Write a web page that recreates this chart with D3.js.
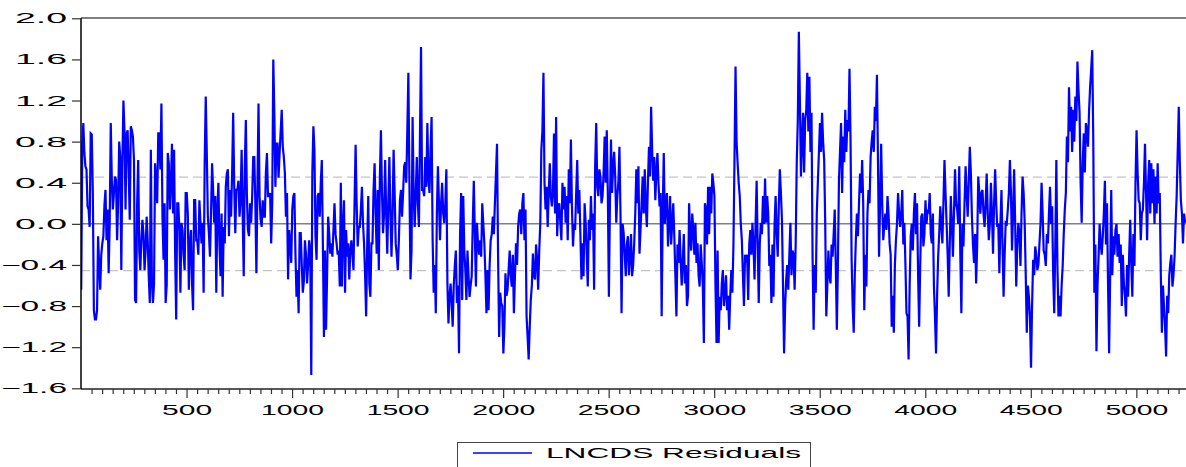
<!DOCTYPE html>
<html>
<head>
<meta charset="utf-8">
<script src="https://cdn.jsdelivr.net/npm/d3@7"></script>
<style>
  html, body { margin: 0; padding: 0; background: #fff; }
  svg { display: block; }
  text { font-family: "Liberation Sans", Arial, sans-serif; fill: #000; }
</style>
</head>
<body>
<svg id="chart" width="1186" height="467"></svg>
<script>
// ---- data: LNCDS residuals ----
// residA*: observations 1, 11, 21, ...   residB*: observations 6, 16, 26, ...
const obsStart = 1;
const obsStep = 10;
const residA1 = [-0.64,0.98,0.56,0.17,-0.03,0.87,-0.84,-0.93,-0.12,-0.64,-0.19,0.18,-0.16,-0.48,0.98,0.14,0.46,-0.16,0.8,-0.45,1.2,0.14,0.91,0.04,0.91,0.62,-0.77,0.62,-0.45,0.04,-0.45,0.07,-0.51,0.72,-0.77,0.59,0.2,0.88,1.17,-0.35,-0.77,0.69,0.14,0.78,0.72,-0.93,0.2,-0.67,-0.06,-0.45,0.3,-0.64,-0.06,-0.84,0.23,-0.16,0.23,-0.19,-0.67,1.24,0.07];
const residA2 = [-0.32,0.59,0.01,-0.67,0.4,-0.51,-0.71,-0.19,0.49,-0.12,0.07,1.08,-0.09,0.33,0.07,0.72,-0.51,1.01,-0.06,0.2,0.27,0.65,-0.48,1.17,0.04,0.23,0.07,0.69,0.27,-0.19,1.6,0.36,0.78,0.69,1.11,0.65,0.07,-0.54,-0.19,0.14,0.3,-0.71,-0.87,-0.09,-0.67,-0.16,-0.58,-0.16,-1.47,0.95,-0.12,0.27,0.07,0.62,-1.1,-1.03,0.07,-0.29,-0.32,0.2];
const residA3 = [-0.19,-0.26,0.4,-0.03,-0.67,-0.32,-0.54,-0.16,-0.45,0.77,-0.22,-0.03,0.36,-0.19,-0.9,0.27,-0.71,-0.19,0.59,-0.29,-0.45,0.91,-0.09,0.62,-0.29,0.65,-0.32,0.72,-0.19,-0.45,0.23,0.07,0.56,0.4,1.47,-0.54,1.04,-0.03,0.65,-0.03,1.72,0.33,0.65,0.98,0.3,1.04,-0.67,-0.87,0.56,-0.16,0.4,0.01,0.53,-0.97,-0.58,-1.0,-0.41,-0.77,-1.26];
const residA4 = [0.3,0.27,-0.45,-0.26,-0.71,-0.51,0.42,-0.61,-0.19,-0.16,0.2,-0.19,-0.87,-0.84,-0.16,0.07,0.2,0.78,-1.1,-0.77,-1.26,-0.48,-0.64,-0.26,-0.61,-0.87,-0.19,-0.03,0.14,0.2,-0.16,-0.9,-1.32,-0.74,-0.29,-0.54,-0.35,-0.26,0.72,1.47,0.14,-0.03,0.59,0.17,0.88,1.04,0.17,0.01,0.4,0.36,0.27,0.53,0.82,-0.22,-0.06,0.62,0.33,-0.54,-0.51];
const residA5 = [0.01,-0.61,-0.16,-0.06,-0.64,0.98,0.27,0.46,0.27,0.85,0.91,-0.71,0.82,0.56,0.46,0.27,0.75,-0.87,-0.09,-0.51,-0.12,-0.32,-0.51,-0.19,0.53,0.56,-0.06,0.46,0.53,-0.03,0.75,1.14,0.42,0.23,0.69,0.17,-0.9,0.69,0.2,-0.22,0.27,0.01,-0.12,-0.9,-0.38,-0.35,-0.38,-0.58,-0.8,0.2,-0.26,-0.06,0.01,-0.19,-0.61,-0.38,-1.16,0.14,0.36];
const residA6 = [0.36,0.49,0.27,-1.16,-1.16,-0.84,-0.45,-0.67,-0.84,-1.03,-0.45,-0.22,1.53,0.59,0.27,-0.16,-0.8,-0.38,-0.74,-0.06,0.01,-0.54,0.42,-0.77,0.01,0.27,0.44,0.27,-0.41,-0.77,-0.71,0.27,-0.32,0.53,0.04,-1.26,-0.54,-0.64,0.01,-0.26,-0.64,0.59,1.87,0.46,1.08,1.01,1.47,1.43,1.08,-1.03,-0.67,0.4,0.98,1.08,0.62,-0.9,-0.26,-0.58,-0.32,0.14];
const residA7 = [-1.03,0.42,0.98,0.85,1.11,1.01,1.51,-0.35,-1.06,-0.16,-0.12,0.49,0.62,-0.84,-0.61,0.33,0.65,0.91,1.14,1.45,-0.32,0.78,-0.16,0.1,0.27,-0.19,-1.0,-1.06,-0.16,0.3,-0.03,0.33,0.01,-0.87,-1.32,-0.12,-0.26,0.3,0.2,-1.0,0.07,-0.22,0.23,0.14,0.3,-0.19,-0.61,-1.26,-0.32,0.17,-0.19,0.62,0.01,-0.71,0.27,-0.32,0.53,0.14,0.56];
const residA8 = [-0.87,-0.22,0.56,0.07,0.75,0.07,-0.38,-0.58,0.46,0.1,0.33,-0.03,0.49,-0.16,0.4,-0.29,0.53,-0.03,-0.48,0.33,-0.71,0.01,0.14,0.62,-0.26,0.53,-0.61,0.01,-0.41,0.46,0.01,-1.06,-0.71,-1.4,-0.35,-0.22,-0.45,-0.19,0.4,-0.26,-0.41,-0.19,0.36,0.17,-0.87,0.62,-0.9,-0.9,-0.41,0.14,0.85,1.33,1.14,1.11,1.24,1.58,1.08,0.01,0.88];
const residA9 = [0.98,0.75,1.33,1.69,-0.67,-1.24,-0.32,-0.19,-0.12,0.42,0.2,-1.26,0.33,-0.12,-0.06,-0.32,-0.38,-0.8,-0.58,-0.9,-0.71,0.04,-0.71,-0.41,0.91,0.23,-0.16,0.14,0.78,-0.16,0.62,0.59,0.53,0.46,0.59,0.3,-1.06,-0.8,-1.29,-0.87,-0.38,-0.61,-0.32,0.27,1.14,0.23,-0.19,0.01];
const residB1 = [0.75,0.69,0.53,0.14,0.88,0.3,-0.93,-0.84,-0.4,-0.3,-0.12,0.33,0.14,0.01,0.43,0.3,0.43,0.2,0.65,0.59,0.9,0.88,0.5,0.95,0.85,-0.74,0.2,-0.26,-0.16,-0.1,-0.26,-0.16,-0.77,-0.58,-0.58,0.4,0.88,0.53,0.07,0.2,-0.6,0.59,0.4,0.1,-0.29,0.2,-0.06,0.01,-0.3,0.3,0.1,-0.19,-0.58,0.23,-0.16,-0.3,0.01,0.01,0.6,0.69,-0.09];
const residB2 = [0.1,0.33,0.27,0.14,-0.2,0.1,-0.03,0.36,0.53,0.33,0.5,0.36,0.33,0.42,0.23,0.1,0.56,0.27,-0.12,0.01,0.65,0.2,0.36,0.27,-0.03,0.07,0.5,0.27,0.3,0.2,1.08,0.78,0.45,0.9,0.75,0.49,0.3,-0.06,-0.38,0.27,-0.29,-0.45,-0.09,-0.4,-0.55,-0.3,-0.4,-0.26,0.5,0.72,-0.35,0.3,0.4,-0.2,-0.26,-0.5,-0.1,-0.19,-0.06,-0.1];
const residB3 = [-0.3,-0.61,-0.61,0.23,-0.06,-0.19,-0.26,-0.3,0.2,0.2,-0.03,0.14,0.01,-0.5,-0.2,-0.58,-0.19,0.33,0.1,0.33,0.46,0.3,0.1,0.1,0.2,0.1,0.07,0.3,-0.3,-0.16,0.33,0.3,0.6,0.9,0.4,-0.26,0.3,0.3,0.2,0.88,0.33,0.27,0.36,0.45,0.72,-0.16,-0.4,0.1,0.2,0.2,0.1,0.2,-0.58,-0.71,-0.77,-0.6,-0.26,-0.6,-0.1];
const residB4 = [-0.74,-0.26,-0.74,-0.5,-0.6,0.0,-0.1,0.01,-0.3,-0.32,0.0,-0.5,-0.45,-0.4,-0.1,-0.1,0.49,-0.3,-0.67,-0.8,-1.0,-0.7,-0.45,-0.5,-0.3,-0.5,-0.4,0.1,-0.1,0.3,0.14,-1.1,-1.0,-0.6,-0.5,-0.2,-0.64,0.0,0.9,0.4,0.36,0.3,0.27,0.3,0.1,-0.12,0.2,-0.16,0.14,0.01,-0.16,0.2,0.17,0.0,0.3,0.1,-0.1,-0.19,0.2];
const residB5 = [-0.3,0.04,0.27,0.1,0.56,0.36,0.53,0.2,0.5,0.4,0.3,0.2,0.3,0.7,0.01,0.4,0.1,0.0,-0.3,-0.2,-0.5,-0.1,-0.4,0.1,0.2,-0.29,0.2,0.1,0.17,0.4,0.46,0.72,0.65,0.5,0.4,0.3,0.1,0.0,0.3,0.0,-0.2,0.2,-0.5,-0.2,-0.06,-0.6,-0.1,-0.4,-0.7,-0.1,0.1,-0.3,-0.38,-0.5,-0.2,-0.6,0.2,-0.2,-0.1];
const residB6 = [0.1,0.4,-0.6,-0.26,-0.71,-0.58,-0.8,-0.5,-0.7,-0.7,-0.67,0.6,0.8,0.4,0.0,-0.5,-0.3,-0.3,-0.2,-0.3,-0.2,0.0,-0.2,-0.19,-0.1,0.0,0.01,0.1,-0.3,-0.2,0.0,-0.1,0.17,0.3,-0.6,-0.8,-0.4,-0.3,-0.5,-0.3,-0.2,1.0,1.2,0.8,0.5,1.1,0.9,0.7,-0.3,-0.4,0.1,0.69,0.7,0.8,0.0,-0.6,-0.5,-0.2,-0.1,-0.4];
const residB7 = [-0.4,0.7,0.3,0.6,0.7,0.9,0.8,-0.8,-0.5,0.1,0.2,0.3,0.2,-0.3,0.1,0.2,0.8,0.7,1.0,0.6,0.2,0.2,0.0,-0.06,0.1,-0.3,-0.7,-0.4,0.0,0.1,0.1,-0.2,-0.4,-0.9,-0.6,0.0,0.1,-0.1,-0.5,-0.4,0.1,-0.1,0.0,0.1,-0.1,0.1,-0.9,-0.7,-0.1,0.0,0.2,0.3,-0.3,-0.2,0.0,0.1,0.2,0.0,-0.3];
const residB8 = [0.0,0.2,0.3,0.4,0.5,-0.2,-0.1,-0.2,0.3,0.3,0.1,0.2,0.1,0.0,0.1,0.2,0.2,0.0,0.0,-0.2,-0.3,0.0,0.3,0.3,0.1,0.0,-0.2,-0.1,0.1,0.3,-0.5,-0.6,-0.9,-0.8,-0.5,-0.3,-0.4,0.0,0.1,-0.3,-0.1,0.1,0.0,-0.5,-0.2,-0.4,-0.7,-0.6,-0.1,0.3,0.6,0.9,0.7,0.8,1.0,1.3,0.4,0.6,0.5];
const residB9 = [0.9,1.1,1.5,0.8,-0.2,-0.6,0.0,-0.3,0.1,-0.2,-0.6,-0.5,-0.5,-0.3,0.0,-0.1,-0.2,-0.3,-0.7,-0.4,-0.3,-0.4,-0.1,0.4,0.5,0.2,0.1,0.4,0.3,0.4,0.1,0.2,0.0,0.1,0.2,-0.5,-0.6,-1.0,-0.7,-0.5,-0.3,-0.5,0.0,0.7,0.6,0.1,0.1];
const bandValues = [-0.455, 0.455];     // dashed +/- bands
const yTickValues = [-1.6, -1.2, -0.8, -0.4, 0.0, 0.4, 0.8, 1.2, 1.6, 2.0];
const xLabelValues = [500, 1000, 1500, 2000, 2500, 3000, 3500, 4000, 4500, 5000];
const seriesName = "LNCDS Residuals";

(function () {
  const A = [].concat(residA1, residA2, residA3, residA4, residA5, residA6, residA7, residA8, residA9);
  const B = [].concat(residB1, residB2, residB3, residB4, residB5, residB6, residB7, residB8, residB9);
  const data = [];
  A.forEach((v, i) => {
    data.push({ obs: obsStart + i * obsStep, v });
    if (i < B.length) data.push({ obs: obsStart + i * obsStep + obsStep / 2, v: B[i] });
  });

  const svg = d3.select("#chart");
  const W = 1186, H = 467;
  const pL = 81, pT = 18, pB = 389, pR = 1187;

  svg.append("rect").attr("width", W).attr("height", H).attr("fill", "#fff");

  const x = d3.scaleLinear().domain([0, 5240]).range([pL, pR]);
  const y = d3.scaleLinear().domain([-1.6, 2.0]).range([388.3, 18.3]);

  // reference lines
  svg.append("g").selectAll("line").data(bandValues).join("line")
    .attr("x1", pL).attr("x2", W).attr("y1", d => y(d)).attr("y2", d => y(d))
    .attr("stroke", "#c4c4c4").attr("stroke-width", 1.3).attr("stroke-dasharray", "9,5");
  svg.append("line").attr("x1", pL).attr("x2", W).attr("y1", y(0)).attr("y2", y(0))
    .attr("stroke", "#808080").attr("stroke-width", 1.5);

  // series
  svg.append("defs").append("clipPath").attr("id", "clip")
    .append("rect").attr("x", pL).attr("y", pT).attr("width", W - pL).attr("height", pB - pT);
  svg.append("path").datum(data)
    .attr("clip-path", "url(#clip)")
    .attr("fill", "none").attr("stroke", "#0000ff").attr("stroke-width", 2.2).attr("stroke-linejoin", "miter")
    .attr("d", d3.line().x(d => x(d.obs)).y(d => y(d.v)));

  // frame
  svg.append("line").attr("x1", pL).attr("x2", W).attr("y1", pT).attr("y2", pT).attr("stroke", "#000").attr("stroke-width", 1.2);
  svg.append("line").attr("x1", pL).attr("x2", W).attr("y1", pB).attr("y2", pB).attr("stroke", "#222").attr("stroke-width", 1.5);
  svg.append("line").attr("x1", pL).attr("x2", pL).attr("y1", pT).attr("y2", pB).attr("stroke", "#000").attr("stroke-width", 1.5);

  // y axis
  const yAxis = svg.append("g").attr("transform", `translate(${pL},0)`)
    .call(d3.axisLeft(y).tickValues(yTickValues).tickFormat(d3.format(".1f")).tickSize(9).tickSizeOuter(0).tickPadding(5));
  yAxis.select(".domain").remove();
  yAxis.selectAll(".tick line").attr("stroke", "#333").attr("stroke-width", 1.2);
  yAxis.selectAll(".tick text")
    .style("font-size", "14px").style("font-family", "'Liberation Sans', Arial, sans-serif")
    .attr("textLength", function () { return this.textContent.length > 3 ? 66 : 52; })
    .attr("lengthAdjust", "spacingAndGlyphs");

  // x axis: minor ticks every 50
  const minorTicks = d3.range(50, 5240, 50).filter(v => v % 500 !== 0);
  const xMinor = svg.append("g").attr("transform", `translate(0,${pB})`)
    .call(d3.axisBottom(x).tickValues(minorTicks).tickFormat("").tickSize(5).tickSizeOuter(0));
  xMinor.select(".domain").remove();
  xMinor.selectAll(".tick line").attr("stroke", "#333").attr("stroke-width", 1.2);

  const xMajor = svg.append("g").attr("transform", `translate(0,${pB})`)
    .call(d3.axisBottom(x).tickValues(xLabelValues).tickFormat(d3.format("d")).tickSize(9).tickSizeOuter(0).tickPadding(7));
  xMajor.select(".domain").remove();
  xMajor.selectAll(".tick line").attr("stroke", "#333").attr("stroke-width", 1.2);
  xMajor.selectAll(".tick text")
    .style("font-size", "14px").style("font-family", "'Liberation Sans', Arial, sans-serif")
    .attr("textLength", function () { return this.textContent.length > 3 ? 63 : 50; })
    .attr("lengthAdjust", "spacingAndGlyphs");

  // legend
  const lg = svg.append("g");
  lg.append("rect").attr("x", 457.5).attr("y", 442.5).attr("width", 353).attr("height", 40)
    .attr("fill", "#fff").attr("stroke", "#444").attr("stroke-width", 1);
  lg.append("line").attr("x1", 473).attr("x2", 532).attr("y1", 453).attr("y2", 453)
    .attr("stroke", "#0000ff").attr("stroke-width", 1.3);
  lg.append("text").attr("x", 546).attr("y", 457.5).text(seriesName)
    .style("font-size", "15px")
    .attr("textLength", 255).attr("lengthAdjust", "spacingAndGlyphs");
})();
</script>
</body>
</html>
